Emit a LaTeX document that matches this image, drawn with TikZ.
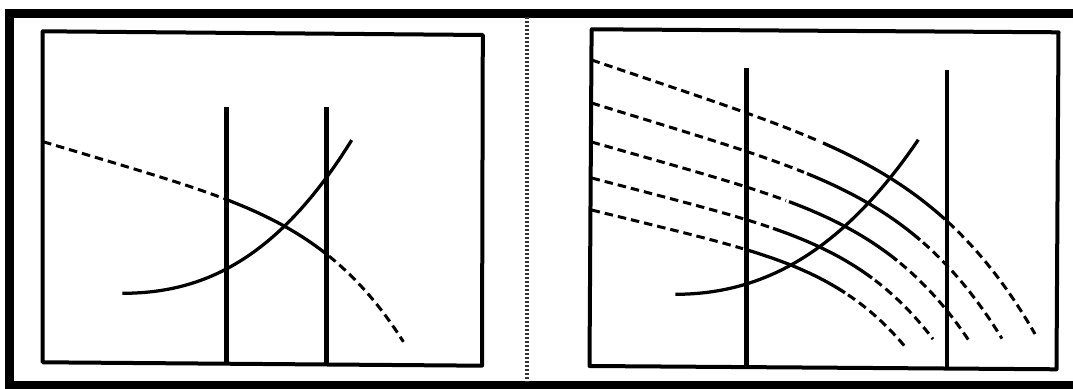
\documentclass[tikz,border=0pt]{standalone}
\usetikzlibrary{calc}
\tikzset{
  frame/.style={line width=1.7mm},
  panel/.style={line width=0.8mm, line join=round},
  limit/.style={line width=0.9mm},
  curve/.style={line width=0.65mm},
  curved/.style={line width=0.6mm, dash pattern=on 1.7mm off 1.0mm},
  divider/.style={line width=0.9mm, black!80, dash pattern=on 0.4mm off 0.4mm},
}
\begin{document}
\begin{tikzpicture}[x=0.2mm, y=-0.2mm,
  declare function={
    hq(\t,\o,\h,\a,\e)=\h+\a*(\t-\o)/100+\e*((\t-\o)/100)^5;
    sys(\t,\o,\h,\b,\c)=\h-\b*((\t-\o)/100)^2-\c*((\t-\o)/100)^3;
  }]
  \useasboundingbox (0,0) rectangle (1073,389);

  % outer frame and divider
  \draw[frame] (1073,13.5) -- (9.5,13.5) -- (9.5,385.5) -- (1073,385.5);
  \coordinate (divtop) at (527,17.5);
  \coordinate (divbot) at (527,382);
  \draw[divider] (divtop) -- (divbot);

  % left panel
  \coordinate (ltl) at (42.7,31.3);
  \coordinate (ltr) at (482.8,35);
  \coordinate (lbr) at (482,365.7);
  \coordinate (lbl) at (42.7,362.3);
  \draw[panel] (ltl) -- (ltr) -- (lbr) -- (lbl) -- cycle;
  \coordinate (la top) at (226.6,107);
  \coordinate (la bot) at (226.6,362);
  \coordinate (lb top) at (326.6,107);
  \coordinate (lb bot) at (326.6,364);
  \draw[limit] (la top) -- (la bot);
  \draw[limit] (lb top) -- (lb bot);
  % pump curve
  \draw[curved] plot[domain=43.1:224, samples=40] (\x,{hq(\x,43.1,141.7,29.83,0.1526)});
  \draw[curve] plot[domain=227:327, samples=40] (\x,{hq(\x,43.1,141.7,29.83,0.1526)});
  \draw[curved] plot[domain=329:403.4, samples=40] (\x,{hq(\x,43.1,141.7,29.83,0.1526)});
  % system curve
  \draw[curve] plot[domain=122.4:351.7, samples=50] (\x,{sys(\x,122.4,293.3,16.99,5.30)});

  % right panel
  \coordinate (rtl) at (591.6,29.3);
  \coordinate (rtr) at (1058.5,32.3);
  \coordinate (rbr) at (1056.5,369.3);
  \coordinate (rbl) at (589.5,366);
  \draw[panel] (rtl) -- (rtr) -- (rbr) -- (rbl) -- cycle;
  \coordinate (ra top) at (746.3,68.3);
  \coordinate (ra bot) at (746.3,366);
  \coordinate (rb top) at (947,70);
  \coordinate (rb bot) at (947,368);
  \draw[limit] (ra top) -- (ra bot);
  \draw[limit] (rb top) -- (rb bot);
  % pump curves at five speeds
  \foreach \h/\a/\e/\xs/\xe/\xd in {60/33.77/0.0725/823/945/1035,
      103/30.73/0.0941/807/920/1002, 142/28.39/0.1196/789/897/969,
      178/26.06/0.1556/773/872/933, 210/24.53/0.1976/746/845/907}{
    \draw[curved] plot[domain=591.6:\xs-3, samples=40] (\x,{hq(\x,591.6,\h,\a,\e)});
    \draw[curve] plot[domain=\xs:\xe, samples=40] (\x,{hq(\x,591.6,\h,\a,\e)});
    \draw[curved] plot[domain=\xe+3:\xd, samples=40] (\x,{hq(\x,591.6,\h,\a,\e)});
  }
  % system curve
  \draw[curve] plot[domain=675.3:918.3, samples=50] (\x,{sys(\x,675.3,294.3,18.01,3.36)});
\end{tikzpicture}
\end{document}
